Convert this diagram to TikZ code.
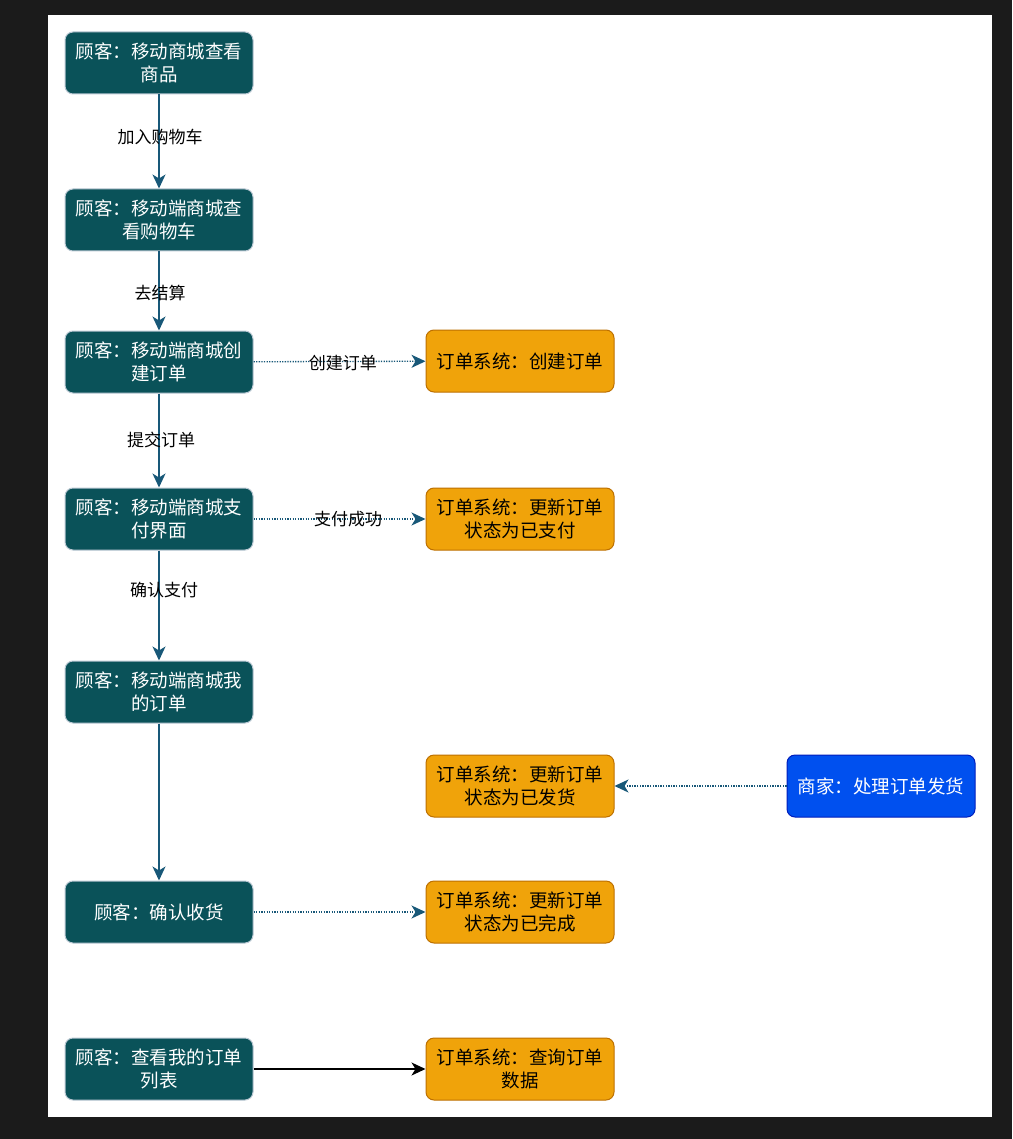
\documentclass[tikz,border=0pt]{standalone}
\usepackage{fontspec}
\setmainfont{Noto Sans CJK SC}
\usepackage{tikz}
\usepackage{xcolor}
\usetikzlibrary{arrows.meta, positioning}
\definecolor{cFrame}{RGB}{27,27,27}
\definecolor{cTeal}{RGB}{10,82,89}
\definecolor{cTealLine}{RGB}{186,200,211}
\definecolor{cOrange}{RGB}{240,163,10}
\definecolor{cOrangeLine}{RGB}{189,112,0}
\definecolor{cBlue}{RGB}{0,80,239}
\definecolor{cBlueLine}{RGB}{0,29,188}
\definecolor{cArrow}{RGB}{24,88,120}
\tikzset{
	custbox/.style={rectangle, rounded corners=8pt, minimum width=188pt, minimum height=62pt, align=center, draw=cTealLine, fill=cTeal, text=white, line width=1pt, font=\fontsize{18.5}{23}\selectfont},
	sysbox/.style ={rectangle, rounded corners=8pt, minimum width=188pt, minimum height=62pt, align=center, draw=cOrangeLine, fill=cOrange, text=black, line width=1pt, font=\fontsize{18.5}{23}\selectfont},
	shopbox/.style={rectangle, rounded corners=8pt, minimum width=188pt, minimum height=62pt, align=center, draw=cBlueLine, fill=cBlue, text=white, line width=1pt, font=\fontsize{18.5}{23}\selectfont},
	flowarrow/.style={-{Stealth[length=14pt, width=13pt, inset=4pt]}, draw=cArrow, line width=1.5pt},
	dotarrow/.style ={-{Stealth[length=14pt, width=13pt, inset=4pt]}, draw=cArrow, line width=1.3pt, dash pattern=on 1.3pt off 1.3pt},
	edgelabel/.style={font=\fontsize{17}{20}\selectfont, text=black, inner sep=1pt},
}
\begin{document}
\begin{tikzpicture}[x=1pt, y=-1pt]
	% frame and page
	\fill[cFrame] (0,0) rectangle (1012,1139);
	\fill[white] (48,15) rectangle (992,1117);
	\useasboundingbox (0,0) rectangle (1012,1139);

	% customer column
	\node[custbox] (view)    at (159,63)   {顾客：移动商城查看\\商品};
	\node[custbox] (cart)    at (159,220)  {顾客：移动端商城查\\看购物车};
	\node[custbox] (create)  at (159,362)  {顾客：移动端商城创\\建订单};
	\node[custbox] (pay)     at (159,519)  {顾客：移动端商城支\\付界面};
	\node[custbox] (myorder) at (159,692)  {顾客：移动端商城我\\的订单};
	\node[custbox] (receive) at (159,912)  {顾客：确认收货};
	\node[custbox] (list)    at (159,1069) {顾客：查看我的订单\\列表};

	% order system column
	\node[sysbox] (sysCreate)  at (520,361)  {订单系统：创建订单};
	\node[sysbox] (sysPaid)    at (520,519)  {订单系统：更新订单\\状态为已支付};
	\node[sysbox] (sysShipped) at (520,786)  {订单系统：更新订单\\状态为已发货};
	\node[sysbox] (sysDone)    at (520,912)  {订单系统：更新订单\\状态为已完成};
	\node[sysbox] (sysQuery)   at (520,1069) {订单系统：查询订单\\数据};

	% merchant
	\node[shopbox] (ship) at (881,786) {商家：处理订单发货};

	% flow
	\draw[flowarrow] (view) -- node[edgelabel, pos=0.45, xshift=1pt] {加入购物车} (cart);
	\draw[flowarrow] (cart) -- node[edgelabel, pos=0.52, xshift=1pt] {去结算} (create);
	\draw[flowarrow] (create) -- node[edgelabel, pos=0.49, xshift=2pt] {提交订单} (pay);
	\draw[flowarrow] (pay) -- node[edgelabel, pos=0.36, xshift=5pt] {确认支付} (myorder);
	\draw[flowarrow] (myorder) -- (receive);

	\draw[dotarrow] (create) -- node[edgelabel, pos=0.52, yshift=-2pt] {创建订单} (sysCreate);
	\draw[dotarrow] (pay) -- node[edgelabel, pos=0.55] {支付成功} (sysPaid);
	\draw[dotarrow] (ship) -- (sysShipped);
	\draw[dotarrow] (receive) -- (sysDone);
	\draw[-{Stealth[length=14pt, width=13pt, inset=4pt]}, line width=1.5pt, draw=black] (list) -- (sysQuery);
\end{tikzpicture}
\end{document}
